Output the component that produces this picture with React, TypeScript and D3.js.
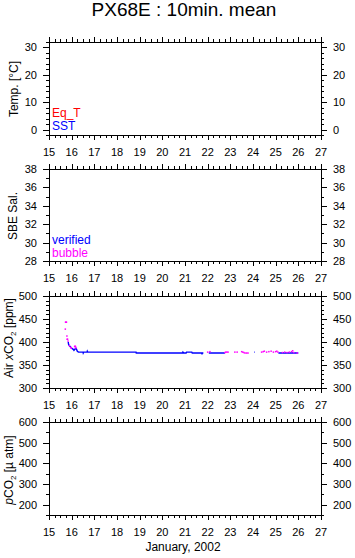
import React from "react";
import * as d3 from "d3";

const W = 355;
const H = 558;
const FONT = "'Liberation Sans', Arial, Helvetica, sans-serif";

const xDomain: [number, number] = [15, 27];
const xMajorTicks = [15, 16, 17, 18, 19, 20, 21, 22, 23, 24, 25, 26, 27];

// Air xCO2 verified (blue) line: [day, ppm], null = gap
const verifiedX: (number | null)[] = [
  15.85, 15.86, 15.87, 15.93, 16.01, 16.07, 16.1, 16.17, 16.2, 16.25, 16.3, 16.5, 16.51, 16.53, 16.68, 16.69, 16.71,
  18.84, 18.85, 20.9, 20.91, 20.95, 21.05, 21.07, 21.3, 21.32, 21.74, 21.75, 21.76, 21.81, null,
  22.05, 22.1, 22.76, null, 24.06, 24.09, null, 25.12, 26.0,
];
const verifiedY: (number | null)[] = [
  400, 396, 394, 390, 386, 384, 382, 386, 386, 380, 378, 378, 376, 378, 378, 380, 378,
  378, 376, 376, 378, 376, 376, 378, 378, 376, 376, 373, 376, 376, null,
  376, 376, 376, null, 378, 378, null, 376, 376,
];

// bubble (magenta) points
const bubbleX = [
  15.73, 15.75, 15.77, 15.72, 15.79, 15.8, 15.82, 15.84, 15.9, 15.96, 15.98, 16.13, 16.15, 16.17, 16.19,
  22.0, 22.1, 22.76, 22.8, 22.85, 22.9, 23.2, 23.3, 23.5, 23.55, 23.6, 23.65, 23.72, 23.78,
  24.38, 24.45, 24.5, 24.6, 24.7, 24.8, 24.9, 25.0, 25.05, 25.1, 25.3, 25.4, 25.5, 25.6, 25.7, 25.75, 25.8, 25.95,
];
const bubbleY = [
  443, 443, 443, 428, 413, 406, 406, 402, 392, 388, 387, 390, 391, 390, 387,
  378, 379, 377, 378, 378, 378, 378, 378, 379, 378, 377, 376, 376, 376,
  378, 379, 380, 378, 379, 380, 378, 379, 380, 378, 377, 378, 377, 378, 379, 381, 377, 376,
];

type Scale = d3.ScaleLinear<number, number>;

interface Panel {
  top: number;
  bottom: number;
  domain: [number, number];
  major: number[];
  minorStep: number;
  label: React.ReactNode;
  labelX: number;
  labelY: number;
}

const tempMajor = [0, 10, 20, 30];
const salMajor = [28, 30, 32, 34, 36, 38];
const xco2Major = [300, 350, 400, 450, 500];
const pco2Major = [200, 300, 400, 500, 600];

const LEFT = 49;
const RIGHT = 321;

const panels: Panel[] = [
  {
    top: 42, bottom: 135, domain: [-2, 32], major: tempMajor, minorStep: 2,
    label: <>Temp. [°C]</>, labelX: 17.5, labelY: 89,
  },
  {
    top: 169, bottom: 261, domain: [28, 38], major: salMajor, minorStep: 1,
    label: <>SBE Sal.</>, labelX: 17, labelY: 216,
  },
  {
    top: 296, bottom: 388, domain: [300, 500], major: xco2Major, minorStep: 10,
    label: (
      <>
        Air <tspan fontStyle="italic">x</tspan>CO<tspan fontSize={8} dy={3}>2</tspan>
        <tspan dy={-3}> [ppm]</tspan>
      </>
    ),
    labelX: 12.5, labelY: 338,
  },
  {
    top: 422, bottom: 515, domain: [150, 600], major: pco2Major, minorStep: 50,
    label: (
      <>
        <tspan fontStyle="italic">p</tspan>CO<tspan fontSize={8} dy={3}>2</tspan>
        <tspan dy={-3}> [µ atm]</tspan>
      </>
    ),
    labelX: 12.5, labelY: 470,
  },
];

function PanelView({ p, draw }: { p: Panel; draw?: (x: Scale, y: Scale) => React.ReactNode }) {
  const x = d3.scaleLinear().domain(xDomain).range([LEFT, RIGHT]);
  const y = d3.scaleLinear().domain(p.domain).range([p.bottom, p.top]);
  const xMinor = d3.range(xDomain[0], xDomain[1] + 0.001, 0.25);
  const yMinor = d3.range(p.domain[0], p.domain[1] + 0.001, p.minorStep);
  const lines: React.ReactNode[] = [];
  xMinor.forEach((v, i) => {
    const isMajor = Math.abs(v - Math.round(v)) < 1e-6;
    const len = isMajor ? 5 : 3;
    const xx = Math.round(x(v)) + 0.5;
    lines.push(<line key={"xt" + i} x1={xx} x2={xx} y1={p.top} y2={p.top - len} />);
    lines.push(<line key={"xb" + i} x1={xx} x2={xx} y1={p.bottom} y2={p.bottom + len} />);
  });
  yMinor.forEach((v, i) => {
    const isMajor = p.major.some((m) => Math.abs(m - v) < 1e-6);
    const len = isMajor ? 6 : 3;
    const yy = Math.round(y(v)) + 0.5;
    lines.push(<line key={"yl" + i} x1={LEFT} x2={LEFT - len} y1={yy} y2={yy} />);
    lines.push(<line key={"yr" + i} x1={RIGHT} x2={RIGHT + len} y1={yy} y2={yy} />);
  });
  return (
    <g>
      <g stroke="#000" strokeWidth={1}>{lines}</g>
      {draw ? draw(x, y) : null}
      <rect x={LEFT + 0.5} y={p.top + 0.5} width={RIGHT - LEFT} height={p.bottom - p.top} fill="none" stroke="#000" strokeWidth={1} />
      <g fontSize={11} fontFamily={FONT}>
        {xMajorTicks.map((t) => (
          <text key={"xl" + t} x={x(t)} y={p.bottom + 21} textAnchor="middle">{t}</text>
        ))}
        {p.major.map((t) => (
          <text key={"yl" + t} x={37} y={y(t) + 4} textAnchor="end">{t}</text>
        ))}
        {p.major.map((t) => (
          <text key={"yr" + t} x={333} y={y(t) + 4} textAnchor="start">{t}</text>
        ))}
      </g>
      <text fontSize={12} fontFamily={FONT} textAnchor="middle" transform={`translate(${p.labelX},${p.labelY}) rotate(-90)`}>
        {p.label}
      </text>
    </g>
  );
}

export default function App() {
  const drawCO2 = (x: Scale, y: Scale) => {
    const pts = verifiedX.map((v, i) => [v, verifiedY[i]] as [number | null, number | null]);
    const line = d3
      .line<[number | null, number | null]>()
      .defined((d) => d[0] !== null && d[1] !== null)
      .x((d) => x(d[0] as number))
      .y((d) => y(d[1] as number));
    return (
      <g>
        <path d={line(pts) || ""} fill="none" stroke="#0000ff" strokeWidth={1.4} />
        {bubbleX.map((bx, i) => (
          <rect key={i} x={x(bx) - 0.75} y={y(bubbleY[i]) - 0.75} width={1.5} height={1.5} fill="#ff00ff" />
        ))}
      </g>
    );
  };
  return (
    <svg width={W} height={H} style={{ position: "absolute", left: 0, top: 0, background: "#fff" }}>
      <rect x={0} y={0} width={W} height={H} fill="#fff" />
      <text x={184} y={15.5} fontSize={19} fontFamily={FONT} textAnchor="middle">PX68E : 10min. mean</text>
      <PanelView p={panels[0]} />
      <PanelView p={panels[1]} />
      <PanelView p={panels[2]} draw={drawCO2} />
      <PanelView p={panels[3]} />
      <g fontSize={12} fontFamily={FONT}>
        <text x={52} y={117} fill="#ff0000">Eq_T</text>
        <text x={52} y={130} fill="#0000ff">SST</text>
        <text x={52} y={244} fill="#0000ff">verified</text>
        <text x={52} y={256.5} fill="#ff00ff">bubble</text>
      </g>
      <text x={183} y={551} fontSize={12} fontFamily={FONT} textAnchor="middle">January, 2002</text>
    </svg>
  );
}
